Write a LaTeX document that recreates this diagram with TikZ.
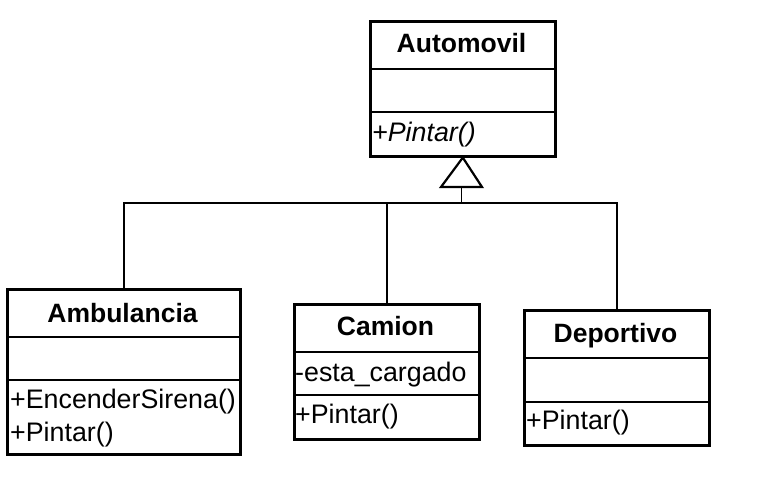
\documentclass[tikz,border=0pt]{standalone}
\usepackage{fontspec}
\setmainfont{Liberation Sans}
\begin{document}
\begin{tikzpicture}[x=1pt,y=-1pt,
  box/.style={draw, line width=2.6pt, inner sep=0pt, anchor=north west},
  div/.style={line width=2.6pt},
  conn/.style={line width=1.4pt},
  title/.style={font=\fontsize{26.5}{30}\selectfont\bfseries, anchor=base, inner sep=0pt},
  member/.style={font=\fontsize{26.8}{33}\selectfont, anchor=base west, inner sep=0pt},
]
\useasboundingbox (0,0) rectangle (783,476);
\fill[white] (0,0) rectangle (783,476);
% Automovil
\node[box, minimum width=185pt, minimum height=135pt] (auto) at (369,20) {};
\draw[div] (369,69) -- (554,69);
\draw[div] (369,112) -- (554,112);
\node[title] (autot) at (461.5,53) {Automovil};
\node[member] (autoop) at (372,141) {\itshape +Pintar()};
% Ambulancia
\node[box, minimum width=233pt, minimum height=165pt] (amb) at (6,288) {};
\draw[div] (6,337) -- (239,337);
\draw[div] (6,380) -- (239,380);
\node[title] (ambt) at (122.5,322) {Ambulancia};
\node[member] (ambop1) at (10,408) {+EncenderSirena()};
\node[member] (ambop2) at (10,441) {+Pintar()};
% Camion
\node[box, minimum width=185pt, minimum height=135pt] (cam) at (293,303) {};
\draw[div] (293,352) -- (478,352);
\draw[div] (293,395) -- (478,395);
\node[title] (camt) at (385.5,335) {Camion};
\node[member] (camat) at (295,381) {-esta\_cargado};
\node[member] (camop) at (295,423) {+Pintar()};
% Deportivo
\node[box, minimum width=185pt, minimum height=135pt] (dep) at (523,309) {};
\draw[div] (523,358) -- (708,358);
\draw[div] (523,402) -- (708,402);
\node[title] (dept) at (615.5,342) {Deportivo};
\node[member] (depop) at (526,429) {+Pintar()};
% generalization
\coordinate (tb) at (461.5,187);
\coordinate (j) at (461.5,203);
\draw[line width=2.2pt, line join=miter, fill=white] (auto.south) -- (482,187) -- (441,187) -- cycle;
\draw[conn] (tb) -- (j);
\draw[conn] (amb.north) |- (j);
\draw[conn] (cam.north) -- (cam.north |- j);
\draw[conn] (dep.north) |- (j);
\end{tikzpicture}
\end{document}
